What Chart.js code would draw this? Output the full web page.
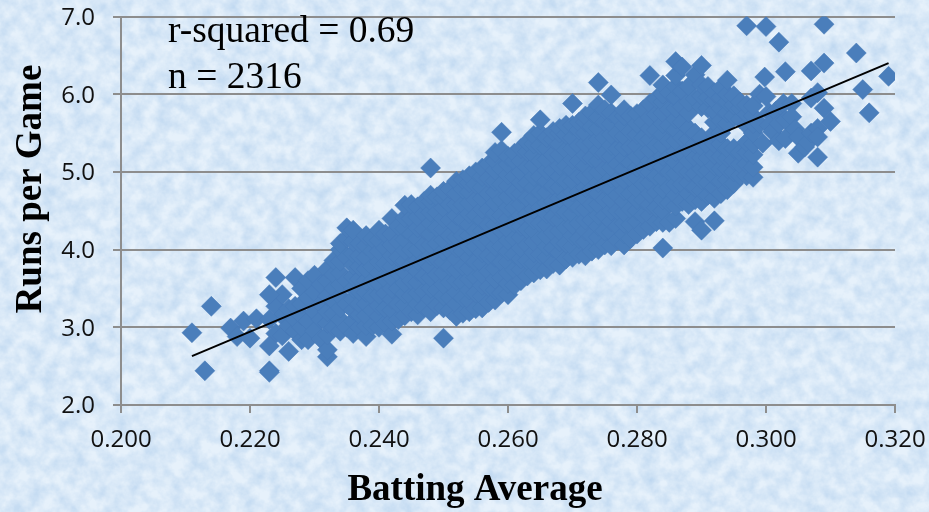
<!DOCTYPE html>
<html>
<head>
<meta charset="utf-8">
<title>Runs per Game vs Batting Average</title>
<script src="https://cdn.jsdelivr.net/npm/chart.js@4"></script>
<style>
    html, body { margin: 0; padding: 0; width: 929px; height: 512px; overflow: hidden; background-color: #d9e8f6; }
    #paper { position: absolute; left: 0; top: 0; width: 929px; height: 512px; }
    #runsChart { position: absolute; left: 0; top: 0; }
</style>
</head>
<body>
<!-- fundo manchado, so decoracao -->
<svg id="paper" xmlns="http://www.w3.org/2000/svg">
    <filter id="mottle" x="0" y="0" width="100%" height="100%" color-interpolation-filters="sRGB">
        <feTurbulence type="fractalNoise" baseFrequency="0.07" numOctaves="4" seed="7"/>
        <feColorMatrix type="matrix" values="0 0 0 0 0.74  0 0 0 0 0.84  0 0 0 0 0.94  1.4 0 0 0 -0.38"/>
    </filter>
    <rect width="929" height="512" fill="#e6f1fb"/>
    <rect width="929" height="512" filter="url(#mottle)"/>
</svg>
<canvas id="runsChart" width="929" height="512"></canvas>
<script>
// Valores
const columnAverages = [
    0.224, 0.225, 0.226, 0.227, 0.228, 0.229, 0.230, 0.231, 0.232, 0.233, 0.234, 0.235, 0.236, 0.237, 0.238,
    0.239, 0.240, 0.241, 0.242, 0.243, 0.244, 0.245, 0.246, 0.247, 0.248, 0.249, 0.250, 0.251, 0.252, 0.253,
    0.254, 0.255, 0.256, 0.257, 0.258, 0.259, 0.260, 0.261, 0.262, 0.263, 0.264, 0.265, 0.266, 0.267, 0.268,
    0.269, 0.270, 0.271, 0.272, 0.273, 0.274, 0.275, 0.276, 0.277, 0.278, 0.279, 0.280, 0.281, 0.282, 0.283,
    0.284, 0.285, 0.286, 0.287, 0.288, 0.289, 0.290, 0.291, 0.292, 0.293, 0.294, 0.295, 0.296, 0.297, 0.298
];
const columnRuns = [
    [2.92, 3.27, 3.64],
    [2.89, 3.15, 3.42],
    [2.69, 3.02, 3.24],
    [2.95, 3.10, 3.27, 3.64],
    [2.84, 3.00, 3.15, 3.30, 3.50],
    [2.84, 3.08, 3.38, 3.60],
    [2.95, 3.20, 3.45, 3.67],
    [2.85, 3.10, 3.30, 3.55],
    [2.62, 2.71, 2.90, 3.05, 3.20, 3.40, 3.60, 3.75],
    [3.00, 3.18, 3.34, 3.50, 3.68, 3.86],
    [2.95, 3.10, 3.25, 3.40, 3.55, 3.70, 3.85, 4.00, 4.08],
    [3.00, 3.30, 3.60, 3.90, 4.15, 4.28],
    [2.92, 3.08, 3.22, 3.36, 3.50, 3.65, 3.80, 3.95, 4.10, 4.25],
    [3.00, 3.16, 3.30, 3.46, 3.62, 3.78, 3.92, 4.08],
    [2.88, 3.02, 3.15, 3.30, 3.45, 3.60, 3.75, 3.90, 4.05, 4.18],
    [3.02, 3.22, 3.40, 3.60, 3.78, 3.98, 4.14],
    [3.00, 3.14, 3.28, 3.42, 3.56, 3.70, 3.84, 3.98, 4.12, 4.25],
    [3.05, 3.24, 3.44, 3.62, 3.82, 4.02, 4.20],
    [2.91, 3.08, 3.22, 3.36, 3.50, 3.64, 3.78, 3.92, 4.06, 4.20, 4.40],
    [3.10, 3.30, 3.50, 3.70, 3.90, 4.10, 4.30],
    [3.15, 3.29, 3.43, 3.57, 3.71, 3.85, 3.99, 4.13, 4.27, 4.41, 4.57],
    [3.20, 3.40, 3.60, 3.80, 4.00, 4.20, 4.40, 4.58],
    [3.16, 3.30, 3.44, 3.58, 3.72, 3.86, 4.00, 4.14, 4.28, 4.42, 4.55],
    [3.26, 3.46, 3.66, 3.86, 4.06, 4.26, 4.46, 4.62],
    [3.20, 3.36, 3.50, 3.64, 3.78, 3.92, 4.06, 4.20, 4.34, 4.48, 4.62, 4.70, 5.05],
    [3.28, 3.48, 3.68, 3.88, 4.08, 4.28, 4.48, 4.68],
    [2.86, 3.25, 3.40, 3.55, 3.70, 3.84, 3.98, 4.12, 4.26, 4.40, 4.54, 4.66, 4.75],
    [3.22, 3.38, 3.58, 3.78, 3.98, 4.18, 4.38, 4.58, 4.78],
    [3.14, 3.30, 3.45, 3.60, 3.74, 3.88, 4.02, 4.16, 4.30, 4.44, 4.58, 4.72, 4.88],
    [3.18, 3.38, 3.58, 3.78, 3.98, 4.18, 4.38, 4.58, 4.78, 4.90],
    [3.20, 3.34, 3.48, 3.62, 3.76, 3.90, 4.04, 4.18, 4.32, 4.46, 4.60, 4.74, 4.86, 4.95],
    [3.24, 3.44, 3.64, 3.84, 4.04, 4.24, 4.44, 4.64, 4.84, 5.00],
    [3.25, 3.40, 3.54, 3.68, 3.82, 3.96, 4.10, 4.24, 4.38, 4.52, 4.66, 4.80, 4.94, 5.05],
    [3.32, 3.52, 3.72, 3.92, 4.12, 4.32, 4.52, 4.72, 4.92, 5.10],
    [3.35, 3.48, 3.62, 3.76, 3.90, 4.04, 4.18, 4.32, 4.46, 4.60, 4.74, 4.88, 5.02, 5.14, 5.25],
    [3.44, 3.64, 3.84, 4.04, 4.24, 4.44, 4.64, 4.84, 5.04, 5.28, 5.51],
    [3.42, 3.56, 3.70, 3.84, 3.98, 4.12, 4.26, 4.40, 4.54, 4.68, 4.82, 4.96, 5.10, 5.20],
    [3.54, 3.74, 3.94, 4.14, 4.34, 4.54, 4.74, 4.94, 5.14, 5.24],
    [3.60, 3.74, 3.88, 4.02, 4.16, 4.30, 4.44, 4.58, 4.72, 4.86, 5.00, 5.14, 5.30],
    [3.66, 3.86, 4.06, 4.26, 4.46, 4.66, 4.86, 5.06, 5.26, 5.38],
    [3.70, 3.82, 3.96, 4.10, 4.24, 4.38, 4.52, 4.66, 4.80, 4.94, 5.08, 5.22, 5.36, 5.47],
    [3.74, 3.94, 4.14, 4.34, 4.54, 4.74, 4.94, 5.14, 5.34, 5.50, 5.67],
    [3.75, 3.90, 4.04, 4.18, 4.32, 4.46, 4.60, 4.74, 4.88, 5.02, 5.16, 5.30, 5.44],
    [3.82, 4.02, 4.22, 4.42, 4.62, 4.82, 5.02, 5.22, 5.42, 5.52],
    [3.80, 3.96, 4.10, 4.24, 4.38, 4.52, 4.66, 4.80, 4.94, 5.08, 5.22, 5.36, 5.50, 5.56],
    [3.88, 4.08, 4.28, 4.48, 4.68, 4.88, 5.08, 5.28, 5.48, 5.60],
    [3.90, 4.04, 4.18, 4.32, 4.46, 4.60, 4.74, 4.88, 5.02, 5.16, 5.30, 5.44, 5.60, 5.88],
    [3.94, 4.14, 4.34, 4.54, 4.74, 4.94, 5.14, 5.34, 5.54, 5.64],
    [3.92, 4.10, 4.24, 4.38, 4.52, 4.66, 4.80, 4.94, 5.08, 5.22, 5.36, 5.50, 5.64, 5.72],
    [3.98, 4.18, 4.38, 4.58, 4.78, 4.98, 5.18, 5.38, 5.58, 5.76],
    [4.00, 4.16, 4.30, 4.44, 4.58, 4.72, 4.86, 5.00, 5.14, 5.28, 5.42, 5.56, 5.70, 5.86, 6.15],
    [4.06, 4.24, 4.44, 4.64, 4.84, 5.04, 5.24, 5.44, 5.64, 5.80],
    [4.05, 4.22, 4.36, 4.50, 4.64, 4.78, 4.92, 5.06, 5.20, 5.34, 5.48, 5.62, 5.76, 5.99],
    [4.12, 4.30, 4.50, 4.70, 4.90, 5.10, 5.30, 5.50, 5.70],
    [4.06, 4.20, 4.34, 4.48, 4.62, 4.76, 4.90, 5.04, 5.18, 5.32, 5.46, 5.60, 5.72, 5.80],
    [4.14, 4.32, 4.52, 4.72, 4.92, 5.12, 5.32, 5.52, 5.72],
    [4.20, 4.36, 4.50, 4.64, 4.78, 4.92, 5.06, 5.20, 5.34, 5.48, 5.62, 5.75],
    [4.26, 4.44, 4.64, 4.84, 5.04, 5.24, 5.44, 5.64, 5.80],
    [4.30, 4.44, 4.58, 4.72, 4.86, 5.00, 5.14, 5.28, 5.42, 5.56, 5.70, 5.88, 6.24],
    [4.36, 4.54, 4.74, 4.94, 5.14, 5.34, 5.54, 5.74, 5.94],
    [4.02, 4.35, 4.50, 4.64, 4.78, 4.92, 5.06, 5.20, 5.34, 5.48, 5.62, 5.76, 5.90, 6.00, 6.12],
    [4.35, 4.60, 4.80, 5.00, 5.20, 5.40, 5.60, 5.80, 6.02],
    [4.40, 4.56, 4.70, 4.84, 4.98, 5.12, 5.26, 5.40, 5.54, 5.68, 5.82, 5.96, 6.10, 6.24, 6.42],
    [4.62, 4.84, 5.04, 5.24, 5.44, 5.64, 5.84, 6.04, 6.35],
    [4.58, 4.72, 4.86, 5.00, 5.14, 5.28, 5.42, 5.56, 5.76, 5.90, 6.10],
    [4.36, 4.64, 4.80, 4.98, 5.18, 5.36, 5.50, 5.94, 6.25],
    [4.25, 4.62, 4.76, 4.90, 5.04, 5.18, 5.32, 5.44, 5.84, 5.98, 6.12, 6.37],
    [4.70, 4.86, 5.02, 5.18, 5.34, 5.82, 5.96, 6.10],
    [4.37, 4.66, 4.80, 4.94, 5.08, 5.22, 5.36, 5.50, 5.64, 5.78, 5.92, 6.02],
    [4.72, 4.88, 5.04, 5.20, 5.36, 5.50, 5.66, 5.82, 5.96, 6.08],
    [4.77, 4.90, 5.04, 5.18, 5.30, 5.62, 5.76, 5.90, 6.00, 6.18],
    [4.85, 5.00, 5.15, 5.30, 5.72, 5.86, 5.98],
    [4.95, 5.10, 5.25, 5.68, 5.82, 5.90],
    [4.95, 5.10, 5.25, 5.38, 5.60, 5.74, 5.86],
    [4.93, 5.06, 5.22, 5.36, 5.50, 5.62, 5.72, 5.85]
];
// Pontos soltos da ponta esquerda e da ponta direita
const outlierAverages = [
    0.211, 0.213, 0.214, 0.217, 0.218, 0.219, 0.220, 0.221, 0.223, 0.223, 0.223, 0.223, 0.223,
    0.297, 0.299, 0.299, 0.2995, 0.2998, 0.300, 0.300, 0.3005, 0.3005, 0.301, 0.3015, 0.302, 0.302, 0.302,
    0.3027, 0.303, 0.303, 0.303, 0.304, 0.304, 0.3045, 0.305, 0.305, 0.306, 0.3065, 0.307, 0.307, 0.307,
    0.308, 0.308, 0.308, 0.308, 0.309, 0.309, 0.309, 0.310, 0.314, 0.315, 0.316, 0.319
];
const outlierRuns = [
    2.93, 2.44, 3.27, 2.99, 2.88, 3.08, 2.86, 3.11, 2.44, 2.42, 2.76, 3.10, 3.42,
    6.88, 6.00, 5.62, 5.37, 6.22, 6.87, 5.97, 5.76, 5.60, 5.52, 5.78, 6.67, 5.40, 5.62,
    5.88, 6.29, 5.67, 5.43, 5.88, 5.71, 5.55, 5.45, 5.24, 5.32, 5.38, 6.30, 5.95, 5.50,
    6.02, 5.56, 5.45, 5.19, 6.40, 6.90, 5.82, 5.65, 6.53, 6.06, 5.76, 6.23
];
// Linha de tendencia
const trendAverages = [0.211, 0.319];
const trendRuns = [2.63, 6.40];

const chartTexts = {
    xTitle: 'Batting Average',
    yTitle: 'Runs per Game',
    rSquared: 'r-squared = 0.69',
    count: 'n = 2316'
};

const scatterPoints = columnAverages.flatMap((avg, i) => columnRuns[i].map(runs => ({ x: avg, y: runs })))
    .concat(outlierAverages.map((avg, i) => ({ x: avg, y: outlierRuns[i] })));
const trendPoints = trendAverages.map((avg, i) => ({ x: avg, y: trendRuns[i] }));

const GRID_COLOR = '#8d8d8d';
const TICK_FONT = { family: '"Open Sans"', size: 24 };
const SERIF = '"Liberation Serif", serif';

// Titulos fora do centro do eixo, por isso desenhados aqui
const textPlugin = {
    id: 'chartTexts',
    afterDraw(chart) {
        const ctx = chart.ctx;
        ctx.save();
        ctx.fillStyle = '#000';
        ctx.textBaseline = 'alphabetic';
        ctx.textAlign = 'left';
        ctx.font = '37.5px ' + SERIF;
        ctx.fillText(chartTexts.rSquared, 168, 42);
        ctx.fillText(chartTexts.count, 168, 88);
        ctx.textAlign = 'center';
        ctx.font = 'bold 37px ' + SERIF;
        ctx.fillText(chartTexts.xTitle, 475, 500);
        ctx.translate(41, 189);
        ctx.rotate(-Math.PI / 2);
        ctx.fillText(chartTexts.yTitle, 0, 0);
        ctx.restore();
    }
};

// Tira a folga que os rotulos das pontas pedem, a area do grafico fica fixa
function fixScaleSize(scale, width, height) {
    if (width) scale.width = width;
    if (height) scale.height = height;
    scale.paddingLeft = 0;
    scale.paddingRight = 0;
    scale.paddingTop = 0;
    scale.paddingBottom = 0;
}

new Chart(document.getElementById('runsChart').getContext('2d'), {
    type: 'scatter',
    data: {
        datasets: [
            {
                label: 'Trend',
                type: 'line',
                data: trendPoints,
                borderColor: '#000',
                borderWidth: 2,
                pointRadius: 0,
                fill: false,
                order: 1
            },
            {
                label: 'Teams',
                data: scatterPoints,
                pointStyle: 'rectRot',
                pointRadius: 10,
                backgroundColor: '#4a7ebb',
                borderColor: '#4679b6',
                borderWidth: 0.5,
                order: 2
            }
        ]
    },
    options: {
        responsive: false,
        animation: false,
        layout: { padding: { left: 0, right: 34, top: 16.5, bottom: 0 } },
        plugins: { legend: { display: false }, tooltip: { enabled: false } },
        scales: {
            x: {
                type: 'linear',
                min: 0.2,
                max: 0.32,
                afterFit: scale => fixScaleSize(scale, 0, 107),
                ticks: {
                    stepSize: 0.02,
                    padding: 13,
                    color: '#111',
                    font: TICK_FONT,
                    maxRotation: 0,
                    callback: value => value.toFixed(3)
                },
                grid: { drawOnChartArea: false, color: GRID_COLOR, lineWidth: 2, tickLength: 8 },
                border: { color: GRID_COLOR, width: 2 }
            },
            y: {
                min: 2,
                max: 7,
                afterFit: scale => fixScaleSize(scale, 121, 0),
                ticks: {
                    stepSize: 1,
                    padding: 18,
                    labelOffset: 1.5,
                    color: '#111',
                    font: TICK_FONT,
                    callback: value => value.toFixed(1)
                },
                grid: { color: GRID_COLOR, lineWidth: 2, tickLength: 8 },
                border: { color: GRID_COLOR, width: 2 }
            }
        }
    },
    plugins: [textPlugin]
});
</script>
</body>
</html>
